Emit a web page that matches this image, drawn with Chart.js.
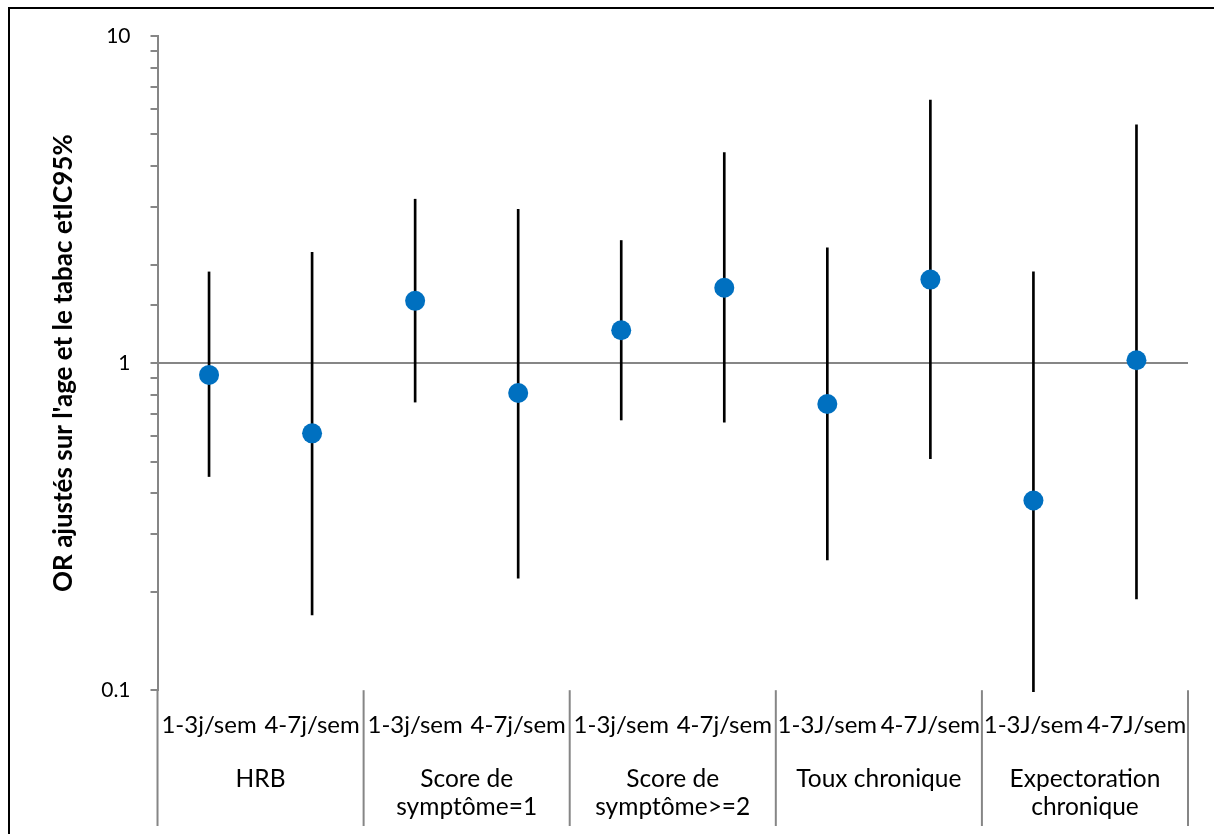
<!DOCTYPE html>
<html lang="fr">
<head>
    <meta charset="UTF-8">
    <title>OR ajustés - IC95%</title>
    <script src="https://cdn.jsdelivr.net/npm/chart.js"></script>
    <style>
        html, body {
            margin: 0;
            padding: 0;
            background: #fff;
            overflow: hidden;
        }
        #wrap {
            position: relative;
            width: 1214px;
            height: 834px;
        }
        #frame {
            position: absolute;
            left: 8px;
            top: 7px;
            width: 1220px;
            height: 840px;
            border-left: 2px solid #000;
            border-top: 2px solid #000;
            pointer-events: none;
        }
        canvas {
            position: absolute;
            left: 0;
            top: 0;
        }
    </style>
</head>
<body>
    <div id="wrap">
        <canvas id="orChart" width="1214" height="834"></canvas>
        <div id="frame"></div>
    </div>

    <script>
        // Données
        const subLabels = ['1-3j/sem', '4-7j/sem', '1-3j/sem', '4-7j/sem', '1-3j/sem', '4-7j/sem', '1-3J/sem', '4-7J/sem', '1-3J/sem', '4-7J/sem'];
        const groupLabels = [['HRB'], ['Score de', 'symptôme=1'], ['Score de', 'symptôme>=2'], ['Toux chronique'], ['Expectoration', 'chronique']];
        const orValues = [0.92, 0.61, 1.55, 0.81, 1.26, 1.70, 0.75, 1.80, 0.38, 1.02];
        const ciLow = [0.45, 0.17, 0.76, 0.22, 0.67, 0.66, 0.25, 0.51, 0.099, 0.19];
        const ciHigh = [1.90, 2.18, 3.17, 2.95, 2.37, 4.40, 2.25, 6.37, 1.90, 5.35];
        const yTickLabels = [0.1, 1, 10];

        const axisGray = '#868686';
        const fontFamily = 'Lato, "Open Sans", sans-serif';

        const isPow10 = v => yTickLabels.some(t => Math.abs(Math.log10(v) - Math.log10(t)) < 1e-6);

        // Séparateurs verticaux entre les groupes, sous l'axe
        const groupSeparators = {
            id: 'groupSeparators',
            afterDraw(chart) {
                const x = chart.scales.x;
                const top = chart.chartArea.bottom;
                const c = chart.ctx;
                c.save();
                c.strokeStyle = axisGray;
                c.lineWidth = 2;
                for (let b = 0; b <= subLabels.length; b += 2) {
                    let px;
                    if (b === 0) px = x.left;
                    else if (b === subLabels.length) px = x.right;
                    else px = (x.getPixelForValue(b - 1) + x.getPixelForValue(b)) / 2;
                    c.beginPath();
                    c.moveTo(px, top);
                    c.lineTo(px, 826);
                    c.stroke();
                }
                c.restore();
            }
        };

        const ctx = document.getElementById('orChart').getContext('2d');
        const orChart = new Chart(ctx, {
            type: 'bar',
            data: {
                labels: subLabels,
                datasets: [
                    {
                        type: 'line',
                        label: 'OR',
                        data: orValues,
                        showLine: false,
                        pointRadius: 10,
                        pointHoverRadius: 10,
                        pointBackgroundColor: '#0070C0',
                        pointBorderWidth: 0,
                        order: 0
                    },
                    {
                        type: 'bar',
                        label: 'IC95%',
                        data: ciLow.map((lo, i) => [lo, ciHigh[i]]),
                        backgroundColor: '#000',
                        borderWidth: 0,
                        barThickness: 2,
                        clip: false,
                        order: 1
                    }
                ]
            },
            options: {
                responsive: false,
                animation: false,
                layout: {
                    padding: { left: 0, top: 36, right: 26, bottom: 8 }
                },
                plugins: {
                    legend: { display: false },
                    tooltip: { enabled: false }
                },
                scales: {
                    x: {
                        type: 'category',
                        offset: true,
                        border: { display: false },
                        grid: { display: false, drawTicks: false },
                        ticks: {
                            color: '#000',
                            font: { family: fontFamily, size: 24 },
                            padding: 20.5,
                            autoSkip: false,
                            maxRotation: 0,
                            minRotation: 0
                        }
                    },
                    x2: {
                        type: 'category',
                        position: 'bottom',
                        weight: 1,
                        labels: groupLabels,
                        offset: true,
                        border: { display: false },
                        grid: { display: false, drawTicks: false },
                        ticks: {
                            color: '#000',
                            font: { family: fontFamily, size: 24.5, lineHeight: 1.143 },
                            padding: 5,
                            autoSkip: false,
                            maxRotation: 0,
                            minRotation: 0
                        }
                    },
                    y: {
                        type: 'logarithmic',
                        min: 0.1,
                        max: 10,
                        border: { display: true, color: axisGray, width: 2 },
                        grid: {
                            drawOnChartArea: true,
                            drawTicks: true,
                            tickLength: 7,
                            lineWidth: 2,
                            tickColor: axisGray,
                            color: c => (c.tick && Math.abs(c.tick.value - 1) < 1e-9 ? axisGray : 'rgba(0,0,0,0)')
                        },
                        ticks: {
                            color: '#000',
                            font: { family: fontFamily, size: 21 },
                            padding: 20,
                            autoSkip: false,
                            callback: value => (isPow10(value) ? String(value) : '')
                        },
                        title: {
                            display: true,
                            text: "OR ajustés sur l'age et le tabac etIC95%",
                            color: '#000',
                            font: { family: fontFamily, size: 26, weight: 'bold' },
                            padding: { top: 48, bottom: 2 }
                        }
                    }
                }
            },
            plugins: [groupSeparators]
        });
    </script>
</body>
</html>
